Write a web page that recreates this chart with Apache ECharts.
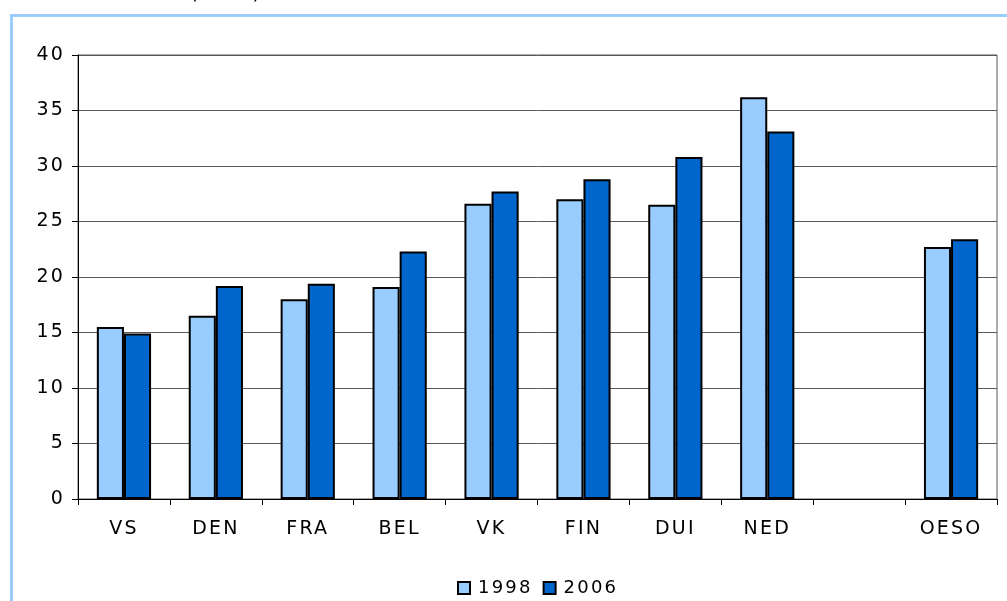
<!DOCTYPE html>
<html>
<head>
<meta charset="utf-8">
<style>
  html, body { margin: 0; padding: 0; background: #ffffff; }
  #chart { width: 1007px; height: 601px; }
</style>
<script src="https://cdn.jsdelivr.net/npm/echarts@6/dist/echarts.min.js"></script>
</head>
<body>
<div id="chart"></div>
<script>
// Countries (empty slot separates the OECD average)
const categories = ['VS', 'DEN', 'FRA', 'BEL', 'VK', 'FIN', 'DUI', 'NED', '', 'OESO'];
const values1998 = [15.5, 16.5, 18.0, 19.1, 26.6, 27.0, 26.5, 36.2, '-', 22.7];
const values2006 = [14.9, 19.2, 19.4, 22.3, 27.7, 28.8, 30.8, 33.1, '-', 23.4];
const seriesNames = ['1998', '2006'];
const yTicks = { min: 0, max: 40, interval: 5 };

// Slightly tracked-out lettering for every canvas text draw and measurement
const TRACKING = '2.2px';
(function () {
  const p = CanvasRenderingContext2D.prototype;
  if (!('letterSpacing' in p)) return;
  ['fillText', 'strokeText', 'measureText'].forEach(function (fn) {
    const orig = p[fn];
    p[fn] = function () {
      this.letterSpacing = TRACKING;
      return orig.apply(this, arguments);
    };
  });
})();

const FONT = '"DejaVu Sans", Verdana, sans-serif';
const chart = echarts.init(document.getElementById('chart'), null, { renderer: 'canvas' });

chart.setOption({
  animation: false,
  backgroundColor: '#ffffff',
  graphic: [
    {
      type: 'rect',
      shape: { x: 11.5, y: 15.5, width: 1200, height: 800 },
      style: { fill: 'none', stroke: '#99CCFF', lineWidth: 3 },
      silent: true
    },
    {
      type: 'text',
      left: 190,
      top: -17,
      style: { text: '(in %)', font: '20px ' + FONT, fill: '#000000' },
      silent: true
    }
  ],
  grid: {
    left: 78, right: 10, top: 55, bottom: 102,
    show: true, borderColor: '#5a5a5a', borderWidth: 1, backgroundColor: 'transparent'
  },
  legend: {
    data: seriesNames,
    top: 573,
    left: 452,
    itemWidth: 12,
    itemHeight: 12,
    itemGap: 10,
    textStyle: { fontFamily: FONT, fontSize: 18, color: '#000000', padding: [0, 0, 0, 3] },
    icon: 'rect'
  },
  xAxis: {
    type: 'category',
    data: categories,
    axisLine: { lineStyle: { color: '#000000', width: 1 } },
    axisTick: { show: true, length: 6, lineStyle: { color: '#000000' } },
    axisLabel: { fontFamily: FONT, fontSize: 19, color: '#000000', margin: 19, interval: 0 }
  },
  yAxis: {
    type: 'value',
    min: yTicks.min, max: yTicks.max, interval: yTicks.interval,
    axisLine: { show: true, lineStyle: { color: '#000000', width: 1 } },
    axisTick: { show: true, length: 6, lineStyle: { color: '#000000' } },
    axisLabel: { fontFamily: FONT, fontSize: 19, color: '#000000', margin: 13 },
    splitLine: { show: true, lineStyle: { color: '#5a5a5a', width: 1 } }
  },
  series: [
    {
      name: seriesNames[0],
      type: 'bar',
      data: values1998,
      barGap: '0%',
      barCategoryGap: '41%',
      itemStyle: { color: '#99CCFF', borderColor: '#000000', borderWidth: 2 }
    },
    {
      name: seriesNames[1],
      type: 'bar',
      data: values2006,
      barGap: '0%',
      barCategoryGap: '41%',
      itemStyle: { color: '#0066CC', borderColor: '#000000', borderWidth: 2 }
    }
  ]
});
</script>
</body>
</html>
